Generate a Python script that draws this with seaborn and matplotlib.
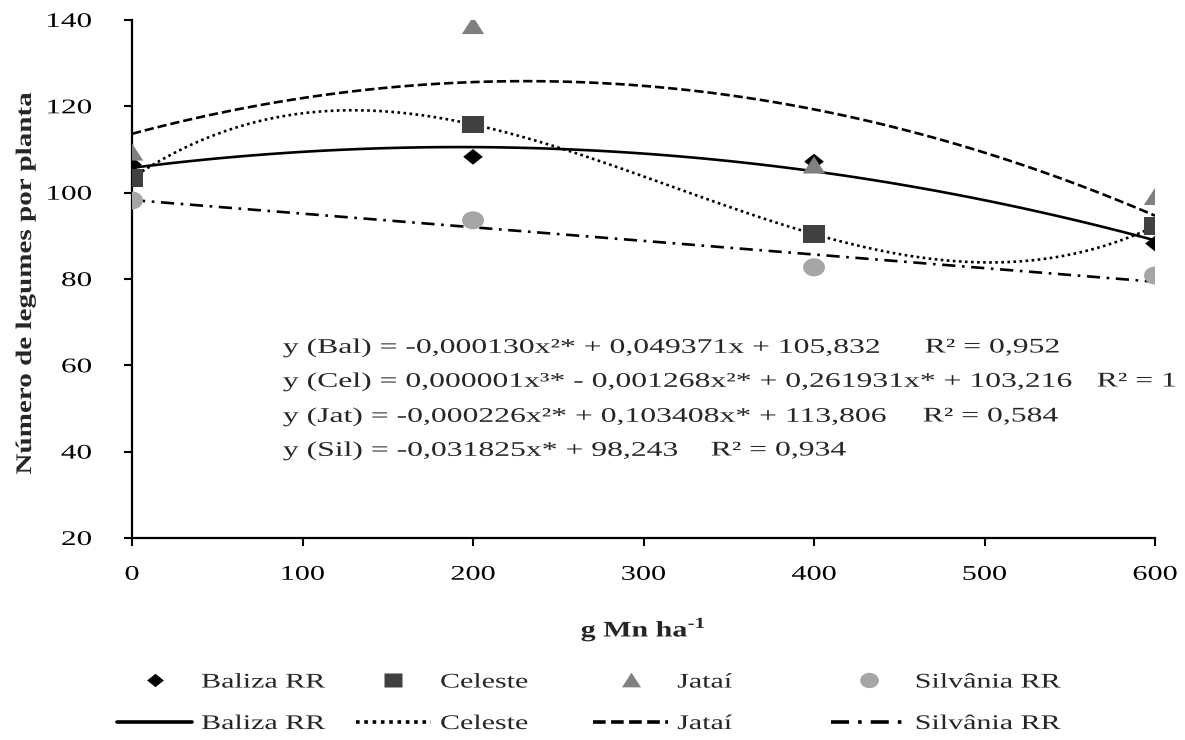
import numpy as np
import pandas as pd
import seaborn as sns
import matplotlib.pyplot as plt
from matplotlib.lines import Line2D
from matplotlib.patheffects import AbstractPathEffect
from matplotlib.transforms import Affine2D

# doses de Mn (g/ha)
dose = [0, 200, 400, 600]

# numero de legumes por planta
baliza = [106.5, 108.3, 107.2, 88.2]
celeste = [103.4, 115.8, 90.4, 92.2]
jatai = [109.3, 138.6, 106.3, 99.0]
silvania = [98.2, 93.6, 82.7, 80.8]

cultivares = ["Baliza RR", "Celeste", "Jataí", "Silvânia RR"]
ordem = [2, 3, 2, 1]

equacoes = [
    "y (Bal) = -0,000130x²* + 0,049371x + 105,832",
    "y (Cel) = 0,000001x³* - 0,001268x²* + 0,261931x* + 103,216",
    "y (Jat) = -0,000226x²* + 0,103408x* + 113,806",
    "y (Sil) = -0,031825x* + 98,243",
]
r2 = ["R² = 0,952", "R² = 1", "R² = 0,584", "R² = 0,934"]


class Largo(AbstractPathEffect):
    # o texto do grafico original e bem mais largo que o Times normal
    def __init__(self, fator, ancora=0.5):
        super().__init__()
        self.fator = fator
        self.ancora = ancora

    def draw_path(self, renderer, gc, tpath, affine, rgbFace=None):
        ext = tpath.get_extents()
        x0 = ext.x0 + self.ancora * ext.width
        t = Affine2D().translate(-x0, 0).scale(self.fator, 1).translate(x0, 0)
        renderer.draw_path(gc, tpath, t + affine, rgbFace)


sns.set_style("ticks")
plt.rcParams['font.family'] = ['Liberation Serif', 'DejaVu Serif']
plt.rcParams['mathtext.fontset'] = 'custom'
plt.rcParams['mathtext.rm'] = 'Liberation Serif:bold'
plt.rcParams['mathtext.bf'] = 'Liberation Serif:bold'

df = pd.DataFrame({"dose": dose * 4,
                   "valor": baliza + celeste + jatai + silvania,
                   "cultivar": [c for c in cultivares for _ in dose]})

# marcadores um pouco achatados, como no original
t = np.linspace(0, 2 * np.pi, 40)
elipse = list(zip(np.cos(t), 0.82 * np.sin(t)))
marcadores = [
    [(-1, 0), (0, 0.8), (1, 0), (0, -0.8)],
    [(-1, -0.82), (1, -0.82), (1, 0.82), (-1, 0.82)],
    [(-1, -0.72), (1, -0.72), (0, 0.82)],
    elipse,
]
cores = ["#000000", "#404040", "#808080", "#a6a6a6"]
tamanhos = [200, 240, 260, 250]
estilos = ["-", (0, (1, 1.3)), (0, (3.5, 1.5)), (0, (5, 2.5, 1, 2.5))]

fig = plt.figure(figsize=(11.85, 7.4), dpi=100)
ax = fig.add_axes([0.1114, 0.273, 0.8633, 0.700])

for i, cv in enumerate(cultivares):
    sub = df[df["cultivar"] == cv]
    sns.regplot(data=sub, x="dose", y="valor", order=ordem[i], ci=None,
                scatter=False, ax=ax,
                line_kws=dict(color="black", lw=1.9, linestyle=estilos[i]))
    sns.scatterplot(data=sub, x="dose", y="valor", marker=marcadores[i],
                    color=cores[i], s=tamanhos[i], edgecolor="none", ax=ax,
                    zorder=3)

ax.set_xlim(0, 600)
ax.set_ylim(20, 140)
ax.set_xticks(range(0, 601, 100))
ax.set_yticks(range(20, 141, 20))
ax.tick_params(axis="both", labelsize=15, length=6, width=1.5, direction="out",
               color="black", labelcolor="black")
ax.tick_params(axis="y", pad=23)
ax.tick_params(axis="x", pad=14)
ax.spines["top"].set_visible(False)
ax.spines["right"].set_visible(False)
for s in ["left", "bottom"]:
    ax.spines[s].set_linewidth(1.6)
    ax.spines[s].set_color("black")

ax.set_xlabel(r"g Mn ha$^{\text{-}1}$", fontsize=16, fontweight="bold",
              path_effects=[Largo(1.35, 0.5)])
ax.set_ylabel("Número de legumes por planta", fontsize=16, fontweight="bold",
              path_effects=[Largo(1.31, 0.5)])
ax.xaxis.label.set_va("center")
ax.yaxis.label.set_va("center")
ax.xaxis.set_label_coords(0.5, -(630 - 538) / 518)
ax.yaxis.set_label_coords(-(132 - 26) / 1023, (538 - 283) / 518)

for lbl in ax.get_xticklabels():
    lbl.set_path_effects([Largo(1.45, 0.5)])
for lbl in ax.get_yticklabels():
    lbl.set_path_effects([Largo(1.5, 1.0)])

# equacoes de regressao
ys = [348, 382, 417, 451]
xr2 = [925, 1097, 923, 711]
for k in range(4):
    fig.text(283 / 1185, 1 - ys[k] / 740, equacoes[k], fontsize=15,
             va="center", ha="left", path_effects=[Largo(1.52, 0.0)])
    fig.text(xr2[k] / 1185, 1 - ys[k] / 740, r2[k], fontsize=15,
             va="center", ha="left", path_effects=[Largo(1.52, 0.0)])

# legendas: uma coluna por cultivar
xs = [117, 356, 593, 831]
for i, cv in enumerate(cultivares):
    hm = Line2D([], [], marker=marcadores[i], color=cores[i], linestyle="none",
                markersize=np.sqrt(tamanhos[i]) * 0.85, markeredgecolor="none")
    hl = Line2D([], [], color="black", lw=2.6, linestyle=estilos[i])
    leg = fig.legend([hm, hl], [cv, cv], loc="center left",
                     bbox_to_anchor=(xs[i] / 1185, 1 - 703.5 / 740),
                     frameon=False, fontsize=15, borderpad=0, borderaxespad=0,
                     handlelength=3.6, handletextpad=0.45, labelspacing=1.05)
    for txt in leg.get_texts():
        txt.set_path_effects([Largo(1.44, 0.0)])

fig.savefig("out.png", dpi=100)
